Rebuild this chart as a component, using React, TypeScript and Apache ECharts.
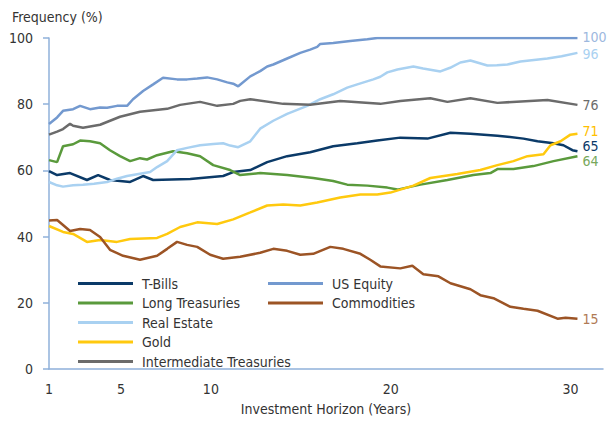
import React, { useEffect, useRef } from "react";
import * as echarts from "echarts";

const FONT = "'DejaVu Sans Condensed', 'Liberation Sans Narrow', Roboto, sans-serif";

const xTicks = [1, 5, 10, 20, 30];
const yTicks = [0, 20, 40, 60, 80, 100];

const tBills: [number, number][] = [
  [1.0, 59.8], [1.45, 58.6], [2.17, 59.2], [3.11, 57.1], [3.73, 58.6], [4.39, 57.1], [5.51, 56.5],
  [6.23, 58.3], [6.79, 57.1], [8.85, 57.4], [10.68, 58.3], [11.24, 59.5], [12.19, 60.1], [13.13, 62.5],
  [14.24, 64.3], [15.52, 65.5], [16.8, 67.3], [18.14, 68.2], [19.25, 69], [20.53, 69.9], [22.04, 69.6],
  [23.32, 71.4], [24.43, 71.1], [25.93, 70.5], [27.38, 69.6], [28.16, 68.8], [29.05, 68.2], [29.6, 67.6],
  [30.1, 66.1], [30.38, 65.8],
];
const longTreasuries: [number, number][] = [
  [1.0, 63.1], [1.45, 62.5], [1.78, 67.3], [2.34, 67.9], [2.73, 69], [3.28, 68.8], [3.84, 68.2],
  [4.39, 66.1], [4.95, 64.3], [5.51, 62.8], [6.06, 63.7], [6.45, 63.3], [7.01, 64.6], [7.9, 65.8],
  [8.68, 65.2], [9.4, 64.3], [10.13, 61.6], [11.07, 60.1], [11.63, 58.6], [12.74, 59.2], [14.24, 58.6],
  [15.69, 57.7], [16.8, 56.8], [17.58, 55.7], [18.7, 55.4], [19.81, 54.8], [20.37, 54.2], [21.65, 55.7],
  [23.15, 57.1], [24.59, 58.6], [25.54, 59.2], [25.93, 60.4], [26.82, 60.4], [27.93, 61.3], [29.05, 62.8],
  [30.38, 64.3],
];
const realEstate: [number, number][] = [
  [1.0, 56.5], [1.45, 55.5], [1.78, 55.1], [2.34, 55.5], [2.89, 55.7], [3.5, 56], [4.23, 56.5], [4.78, 57.5],
  [5.34, 58.3], [6.06, 59], [6.62, 59.5], [7.01, 61], [7.57, 62.8], [8.12, 66.1], [8.68, 66.8], [9.4, 67.6],
  [10.13, 68], [10.68, 68.2], [11.07, 67.5], [11.52, 67], [12.19, 68.8], [12.74, 72.6], [13.47, 75],
  [14.24, 77.1], [15.36, 79.5], [16.08, 81.5], [16.8, 83], [17.58, 85], [18.14, 86], [19.03, 87.5],
  [19.42, 88.3], [19.81, 89.6], [20.37, 90.5], [21.26, 91.4], [21.8, 90.8], [22.76, 89.9], [23.3, 91],
  [23.87, 92.6], [24.43, 93.2], [25.37, 91.7], [25.9, 91.8], [26.49, 92], [27.21, 92.9], [28.71, 93.8],
  [29.5, 94.5], [30.38, 95.5],
];
const gold: [number, number][] = [
  [1.0, 43.2], [1.78, 41.4], [2.34, 40.8], [3.11, 38.4], [3.84, 39], [4.78, 38.4], [5.51, 39.3], [7.01, 39.6],
  [7.57, 40.8], [8.29, 42.9], [9.24, 44.3], [10.35, 43.8], [11.24, 45.2], [12.19, 47.3], [13.13, 49.4],
  [14.02, 49.7], [14.97, 49.4], [15.91, 50.3], [17.19, 51.8], [18.31, 52.7], [19.25, 52.7], [19.98, 53.3],
  [20.53, 54.2], [21.26, 55.4], [22.2, 57.7], [23.7, 58.9], [24.98, 60.1], [25.93, 61.6], [26.82, 62.8],
  [27.6, 64.3], [28.49, 64.9], [28.88, 67.6], [29.44, 68.8], [29.99, 70.8], [30.38, 71.1],
];
const intermediateTreasuries: [number, number][] = [
  [1.0, 70.8], [1.45, 71.7], [1.78, 72.5], [2.17, 74.1], [2.34, 73.5], [2.89, 72.9], [3.84, 73.8],
  [4.95, 76.2], [6.06, 77.7], [7.57, 78.6], [8.29, 79.8], [9.4, 80.7], [10.35, 79.5], [11.24, 80.1],
  [11.63, 81], [12.19, 81.5], [14.02, 80.1], [15.52, 79.8], [17.19, 81], [19.42, 80.1], [20.53, 81],
  [22.2, 81.8], [23.15, 80.7], [24.43, 81.8], [25.93, 80.4], [28.71, 81.3], [30.38, 79.8],
];
const usEquity: [number, number][] = [
  [1.0, 74], [1.45, 76], [1.78, 78], [2.34, 78.5], [2.73, 79.5], [3.28, 78.5], [3.84, 79], [4.23, 78.9],
  [4.78, 79.5], [5.34, 79.5], [5.67, 81.5], [6.23, 84], [6.79, 86], [7.34, 88], [8.12, 87.5], [8.68, 87.5],
  [9.24, 87.8], [9.79, 88.1], [10.35, 87.5], [10.91, 86.6], [11.24, 86.2], [11.52, 85.4], [12.19, 88.4],
  [12.74, 90], [13.13, 91.4], [13.47, 92], [14.24, 93.8], [14.97, 95.5], [15.52, 96.5], [15.91, 97.3],
  [16.08, 98.2], [16.8, 98.5], [17.75, 99.1], [18.7, 99.6], [19.25, 100], [22, 100], [25, 100], [28, 100],
  [30.38, 100],
];
const commodities: [number, number][] = [
  [1.0, 44.9], [1.45, 45], [1.78, 43.5], [2.17, 41.7], [2.73, 42.3], [3.28, 42], [3.84, 39.9], [4.39, 36],
  [5.12, 34.2], [6.06, 33], [7.01, 34.2], [7.57, 36.3], [8.12, 38.4], [8.68, 37.5], [9.24, 36.9],
  [9.96, 34.5], [10.68, 33.3], [11.63, 33.9], [12.74, 35.1], [13.47, 36.3], [14.24, 35.7], [14.97, 34.5],
  [15.69, 34.8], [16.64, 36.9], [17.36, 36.3], [18.31, 34.8], [18.86, 33], [19.42, 31], [20.53, 30.4],
  [21.2, 31.2], [21.81, 28.6], [22.65, 28], [23.32, 25.9], [24.43, 24.1], [24.98, 22.3], [25.71, 21.4],
  [26.65, 18.8], [27.38, 18.2], [28.16, 17.6], [29.27, 15.2], [29.72, 15.5], [30.38, 15.2],
];

const seriesNames = [
  "T-Bills", "Long Treasuries", "Real Estate", "Gold", "Intermediate Treasuries", "US Equity", "Commodities",
];
const seriesData = [tBills, longTreasuries, realEstate, gold, intermediateTreasuries, usEquity, commodities];
const lineColors = ["#0b3a68", "#5a9a3c", "#a9d1f1", "#ffc90e", "#6b6b6b", "#7399cf", "#9c5425"];
const endLabels = ["65", "64", "96", "71", "76", "100", "15"];
const endLabelColors = ["#0b3a68", "#78a85c", "#a9d1f1", "#ffc000", "#6b6b6b", "#9db8de", "#b07a55"];
const endLabelShift = [-5, 5, 1, -3, 0, -1, 0];

export default function App() {
  const ref = useRef<HTMLDivElement>(null);
  useEffect(() => {
    if (!ref.current) return;
    document.body.style.margin = "0";
    const chart = echarts.init(ref.current, null, { renderer: "svg" });
    const axisColor = "#8fb0da";
    const legendText = { fontFamily: FONT, fontSize: 14, color: "#333333", lineHeight: 17, padding: [0, 0, 0, 4] };
    chart.setOption({
      animation: false,
      backgroundColor: "#ffffff",
      title: {
        text: "Frequency (%)",
        left: 12,
        top: 10,
        padding: 0,
        textStyle: { fontFamily: FONT, fontSize: 14, fontWeight: "normal", color: "#333333" },
      },
      grid: { left: 49, right: 10, top: 38, bottom: 47, containLabel: false },
      legend: [
        {
          data: seriesNames.slice(0, 5),
          orient: "vertical",
          left: 78,
          top: 275,
          padding: 0,
          icon: "rect",
          itemWidth: 55,
          itemHeight: 3,
          itemGap: 2.5,
          textStyle: legendText,
        },
        {
          data: seriesNames.slice(5),
          orient: "vertical",
          left: 268,
          top: 275,
          padding: 0,
          icon: "rect",
          itemWidth: 55,
          itemHeight: 3,
          itemGap: 2.5,
          textStyle: legendText,
        },
      ],
      xAxis: {
        type: "value",
        min: 1,
        max: 31.8,
        name: "Investment Horizon (Years)",
        nameLocation: "middle",
        nameGap: 33,
        nameTextStyle: { fontFamily: FONT, fontSize: 14, color: "#333333" },
        axisLine: { show: true, onZero: false, lineStyle: { color: axisColor, width: 1.5 } },
        axisTick: { show: false },
        splitLine: { show: false },
        axisLabel: {
          customValues: xTicks,
          fontFamily: FONT,
          fontSize: 14,
          color: "#333333",
          margin: 13,
        },
      },
      yAxis: {
        type: "value",
        min: 0,
        max: 100,
        interval: 20,
        axisLine: { show: true, lineStyle: { color: axisColor, width: 1.5 } },
        axisTick: { show: true, length: 6, lineStyle: { color: axisColor, width: 1.5 } },
        splitLine: { show: false },
        axisLabel: {
          customValues: yTicks,
          fontFamily: FONT,
          fontSize: 14,
          color: "#333333",
          margin: 16,
        },
      },
      series: seriesNames.map((name, i) => ({
        name,
        type: "line",
        data: seriesData[i],
        showSymbol: false,
        symbol: "none",
        color: lineColors[i],
        lineStyle: { width: 2.5, color: lineColors[i] },
        endLabel: {
          show: true,
          formatter: () => endLabels[i],
          color: endLabelColors[i],
          fontFamily: FONT,
          fontSize: 14,
          lineHeight: 14,
          distance: 5,
          offset: [0, endLabelShift[i]],
        },
      })),
    });
    return () => chart.dispose();
  }, []);
  return <div ref={ref} style={{ width: 613, height: 421 }} />;
}
